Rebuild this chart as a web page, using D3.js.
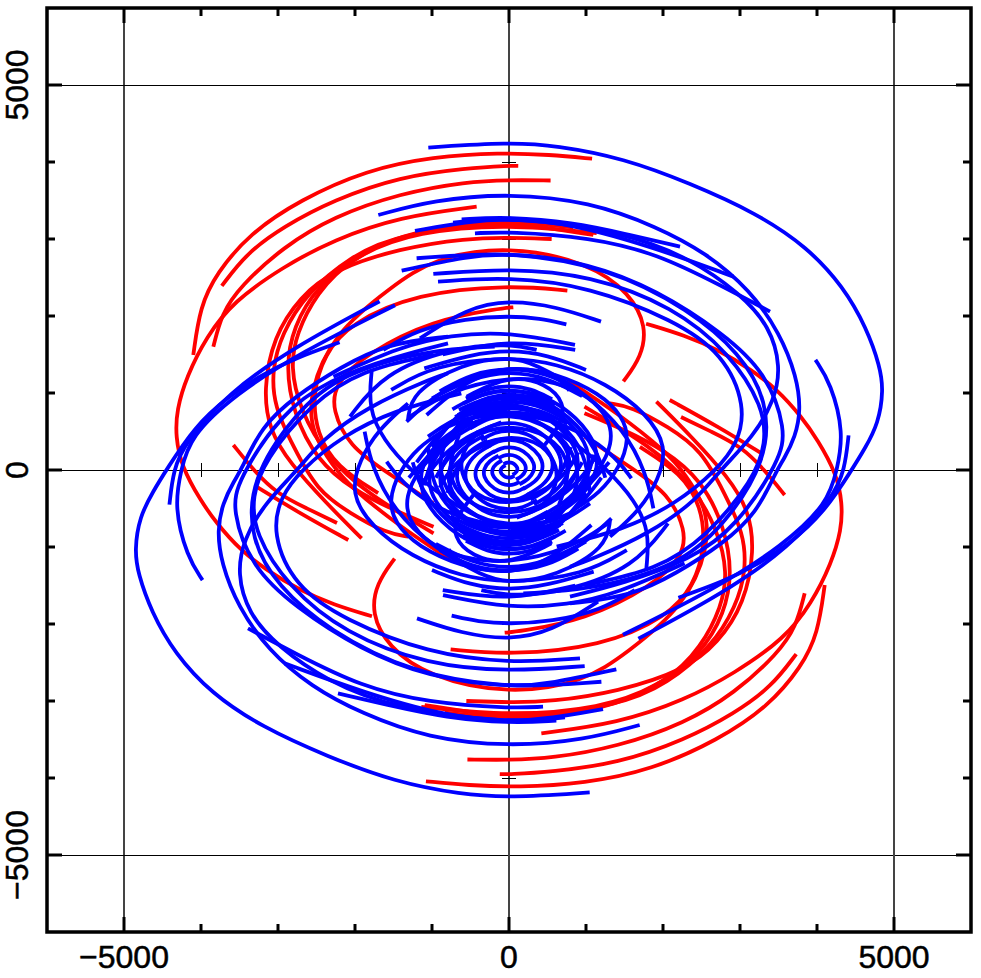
<!DOCTYPE html>
<html><head><meta charset="utf-8">
<script src="https://cdnjs.cloudflare.com/ajax/libs/d3/7.8.5/d3.min.js"></script>
<style>html,body{margin:0;background:#fff}svg{display:block}text{font-family:"Liberation Sans",Arial,sans-serif;font-size:32px;fill:#000;stroke:#000;stroke-width:.5}</style>
</head><body><svg id="c" width="981" height="978"></svg>
<script>
const majorTicks=[-5000,0,5000];
const minorTicks=[-4000,-3000,-2000,-1000,1000,2000,3000,4000];
const redTracks=[
[[1079,4043],[533,4095],[-117,4122],[-983,4070],[-1850,3897],[-2715,3507],[-3365,3074],[-3800,2555],[-4013,2122],[-4100,1494]],
[[-3730,2390],[-3410,2815],[-2930,3160],[-2280,3507],[-1416,3810],[-550,3920],[0,3953],[120,3950]],
[[-3840,1600],[-3730,2035],[-3495,2380],[-2930,2900],[-2280,3290],[-1416,3594],[-550,3745],[0,3767],[540,3760]],
[[-420,3420],[-1416,3290],[-2280,2990],[-2930,2640],[-3580,2190],[-3930,1730],[-4187,1212],[-4317,780],[-4330,433],[-4252,43],[-4010,-390],[-3800,-690],[-3490,-1040],[-3150,-1300],[-2720,-1560],[-2280,-1750],[-1780,-1900]],
[[554,3000],[0,3020],[-550,3010],[-1416,2880],[-2280,2600],[-2715,2250],[-3060,1730],[-3190,1040],[-3115,520],[-2845,87],[-2370,-433],[-1914,-888]],
[[1095,3053],[400,3160],[0,3210],[-1416,3075],[-2065,2770],[-2630,2295],[-2950,1775],[-3080,1300],[-3050,823],[-2800,303],[-2500,-260],[-2065,-563],[-1590,-823],[-1308,-866]],
[[1139,3075],[0,3195],[-1200,3096],[-1935,2815],[-2500,2380],[-2800,1860],[-2900,1340],[-2800,736],[-2500,130],[-2020,-260],[-1500,-520],[-980,-736]],
[[836,3150],[0,3240],[-1200,3140],[-2065,2750],[-2500,2295],[-2760,1775],[-2840,1340],[-2715,780],[-2370,173],[-1850,-303],[-980,-823]],
[[1485,1150],[1720,1470],[1790,1860],[1572,2295],[1052,2685],[0,2920],[-983,2750],[-1524,2380],[-2280,1775],[-2600,996],[-2563,476],[-2280,43],[-2065,-216],[-1416,-736],[-766,-1160]],
[[56,2113],[-117,2100],[-983,1950],[-1850,1515],[-2260,1126],[-2300,780],[-2065,303],[-1632,0],[-983,-433]],
[[758,2330],[0,2403],[-1200,2295],[-2065,1905],[-2400,1500],[-2550,996],[-2500,476],[-2240,43],[-1700,-300]],
[[-3580,325],[-3320,0],[-3020,-303],[-2630,-498],[-2234,-688]],
[[-3280,-216],[-2715,-563],[-2087,-909]]
];
const blueTracks=[
[[-1048,4187],[0,4256],[620,4213],[1485,4049],[2351,3724],[3217,3334],[3867,2901],[4343,2381],[4646,1840],[4819,1342],[4863,1039],[4798,606],[4624,281],[4451,0],[4083,-563],[3650,-953],[3217,-1234],[2784,-1450],[2200,-1658]],
[[-1697,3312],[-983,3507],[0,3594],[1052,3485],[1918,3160],[2568,2815],[3130,2338],[3520,1775],[3737,1212],[3790,780],[3720,433],[3565,130],[3477,0],[3217,-563],[2784,-953],[2178,-1342],[1572,-1645],[792,-1732]],
[[-615,3256],[0,3290],[836,3213],[1485,3074],[2221,2900]],
[[-1221,3105],[-550,3226],[0,3270],[836,3196],[1918,2880],[2914,2511]],
[[-442,3074],[0,3096],[1052,3022],[1918,2815],[2784,2381],[3390,2057]],
[[-727,3213],[0,3290],[1485,3096],[2351,2750],[3000,2295],[3390,1862],[3530,1342],[3450,909],[3174,433],[2741,0],[2438,-390],[1832,-823],[1052,-1170],[792,-1256]],
[[-1200,2750],[0,2836],[1052,2685],[1918,2338],[2784,1775],[3347,1256],[3600,520],[3520,130],[2957,-736],[2351,-1170],[1485,-1472],[792,-1645]],
[[-1394,2589],[-550,2771],[0,2827],[1269,2641],[2351,2078],[3000,1515],[3360,909],[3360,130],[2784,-736],[2178,-1256],[1052,-1559],[186,-1602]],
[[-983,2546],[0,2620],[1052,2533],[2135,2122],[2871,1515],[3304,823],[3340,346],[3174,-130],[2568,-866],[1918,-1299],[987,-1494]],
[[-922,2446],[0,2511],[1052,2381],[2135,1948],[2784,1515],[3080,823],[2970,346],[2698,0],[2178,-433],[1485,-780],[619,-996]],
[[3980,1430],[4180,1130],[4350,480],[4260,0],[4140,-433],[3560,-980],[2700,-1530],[1480,-2140]],
[[4410,450],[4360,0],[4210,-350],[3650,-1000],[2784,-1600],[1680,-2190]],
[[-1156,1710],[-550,2100],[0,2208],[619,2122],[1195,1927]],
[[-1632,1559],[-1200,1819],[-550,1970],[0,2000],[403,1970],[745,1892]],
[[857,1624],[0,1797],[-766,1754],[-1416,1602],[-2280,1212]],
[[359,1559],[0,1645],[-766,1580],[-1632,1256],[-2065,693]],
[[-1530,1040],[-983,1364],[0,1472],[619,1386],[1269,1126],[1788,736],[2060,303],[1940,-130],[1702,-520],[1312,-866]],
[[-1330,628],[-853,1082],[0,1364],[619,1256],[1182,996],[1485,693],[1560,390],[1442,43],[1182,-303],[836,-520]],
[[-1286,693],[-810,1018],[0,1221],[619,1147],[1052,953],[1312,650],[1345,346],[1182,0],[879,-303]],
[[-1070,714],[-550,1169],[0,1351],[446,1277],[684,1169],[784,1030]],
[[-550,953],[0,1234],[489,1126],[727,866],[684,606],[446,303]],
[[-1875,498],[-1784,43],[-1500,-520],[-983,-1010],[-333,-1385],[0,-1472],[619,-1385],[1269,-1000],[1312,-650]],
[[-1784,1277],[-1827,801],[-1632,390],[-1286,0],[-766,-433],[0,-823],[619,-736],[1052,-433]],
[[-1589,108],[-1351,-216],[-766,-606],[0,-758],[619,-650]],
[[-70,75],[-35,95],[0,100],[45,93],[85,65],[110,30],[110,-5],[85,-40],[45,-62]],
[[-140,150],[-70,190],[0,200],[90,186],[170,130],[220,60],[220,-10],[170,-80],[90,-124]],
[[-210,225],[-105,285],[0,300],[135,279],[255,195],[330,90],[330,-15],[255,-120],[135,-186]],
[[-280,300],[-140,380],[0,400],[180,372],[340,260],[440,120],[440,-20],[340,-160],[180,-248]],
[[-364,390],[-182,494],[0,520],[234,484],[442,338],[572,156],[572,-26],[442,-208],[234,-322]],
[[-434,465],[-217,589],[0,620],[279,577],[527,403],[682,186],[682,-31],[527,-248],[279,-384]],
[[-504,540],[-252,684],[0,720],[324,670],[612,468],[792,216],[792,-36],[612,-288],[324,-446]],
[[-574,615],[-287,779],[0,820],[369,763],[697,533],[902,246],[902,-41],[697,-328],[369,-508]],
[[-665,712],[-332,902],[0,950],[428,884],[808,618],[1045,285],[1045,-48],[808,-380],[428,-589]],
[[-735,788],[-367,998],[0,1050],[472,976],[892,682],[1155,315],[1155,-52],[892,-420],[472,-651]],
[[-800,560],[-400,720],[0,760],[400,720],[780,540]],
[[-760,620],[-380,790],[0,830],[400,790],[760,600]],
[[-700,690],[-350,860],[0,900],[350,860],[720,670]],
[[-650,780],[-330,930],[0,970],[350,930],[660,760]],
[[-600,860],[-300,1000],[0,1040],[300,1000],[600,850]],
[[-560,930],[-280,1060],[0,1100],[280,1060],[560,920]],
[[-1000,300],[-700,700],[-300,980],[300,1000],[800,700],[1150,250],[1250,-100]],
[[-1200,100],[-900,500],[-500,800],[100,900],[700,620],[1000,200],[1050,-300]],
[[-1100,-200],[-1000,200],[-600,600],[0,760],[600,540],[900,150],[900,-300],[600,-650]],
[[-950,-100],[-750,250],[-300,560],[300,560],[700,300],[800,-50],[650,-450]],
[[-800,-300],[-700,50],[-350,400],[250,450],[600,180],[650,-200],[400,-500]],
[[0,-900],[500,-700],[900,-350],[1300,100]],
[[100,-620],[550,-450],[950,-120],[1150,220]],
[[100,-400],[500,-260],[780,0],[900,230]],
[[-900,1020],[-500,1250],[0,1330],[500,1260],[900,1040]],
[[-1000,930],[-500,1190],[0,1290],[500,1200],[950,960]],
[[-860,1500],[0,1700],[860,1560]],
[[-1100,1320],[-500,1500],[0,1560],[500,1500],[1000,1300]]
];
const opposite=t=>t.map(([x,y])=>[-x,-y]);
const x=d3.scaleLinear().domain([-6000,6000]).range([47,971]);
const y=d3.scaleLinear().domain([-6000,6000]).range([932,8]);
const svg=d3.select('#c');
const line=d3.line().x(d=>x(d[0])).y(d=>y(d[1])).curve(d3.curveBasis);
const g=svg.append('g').attr('stroke','#000').attr('stroke-width',1).attr('shape-rendering','crispEdges');
majorTicks.forEach(v=>{
  g.append('line').attr('x1',x(v)).attr('x2',x(v)).attr('y1',y(6000)).attr('y2',y(-6000)).attr('stroke','#444').attr('stroke-width',1.3);
  g.append('line').attr('y1',y(v)).attr('y2',y(v)).attr('x1',x(-6000)).attr('x2',x(6000));
});
minorTicks.forEach(v=>{
  g.append('line').attr('x1',x(v)).attr('x2',x(v)).attr('y1',y(0)-7).attr('y2',y(0)+7);
  g.append('line').attr('y1',y(v)).attr('y2',y(v)).attr('x1',x(0)-7).attr('x2',x(0)+7);
});
const draw=(tracks,color)=>svg.append('g').attr('fill','none').attr('stroke',color).attr('stroke-width',3.8)
  .selectAll('path').data(tracks.flatMap(t=>[t,opposite(t)])).join('path').attr('d',line);
draw(redTracks,'#f00');
draw(blueTracks,'#00f');
const frame=svg.append('g').attr('stroke','#000');
[[majorTicks,15],[minorTicks,8]].forEach(([vals,len])=>vals.forEach(v=>{
  [[x(v),y(-6000),x(v),y(-6000)-len],[x(v),y(6000),x(v),y(6000)+len],[x(-6000),y(v),x(-6000)+len,y(v)],[x(6000),y(v),x(6000)-len,y(v)]].forEach(c=>
    frame.append('line').attr('x1',c[0]).attr('y1',c[1]).attr('x2',c[2]).attr('y2',c[3]).attr('stroke-width',3));
}));
frame.append('rect').attr('x',x(-6000)).attr('y',y(6000)).attr('width',x(6000)-x(-6000)).attr('height',y(-6000)-y(6000)).attr('fill','none').attr('stroke-width',3.5);
const fmt=v=>v<0?'\u2212'+(-v):''+v;
majorTicks.forEach(v=>{
  svg.append('text').attr('x',x(v)).attr('y',968).attr('text-anchor','middle').text(fmt(v));
  svg.append('text').attr('transform',`translate(28,${y(v)}) rotate(-90)`).attr('text-anchor','middle').text(fmt(v));
});
</script></body></html>
